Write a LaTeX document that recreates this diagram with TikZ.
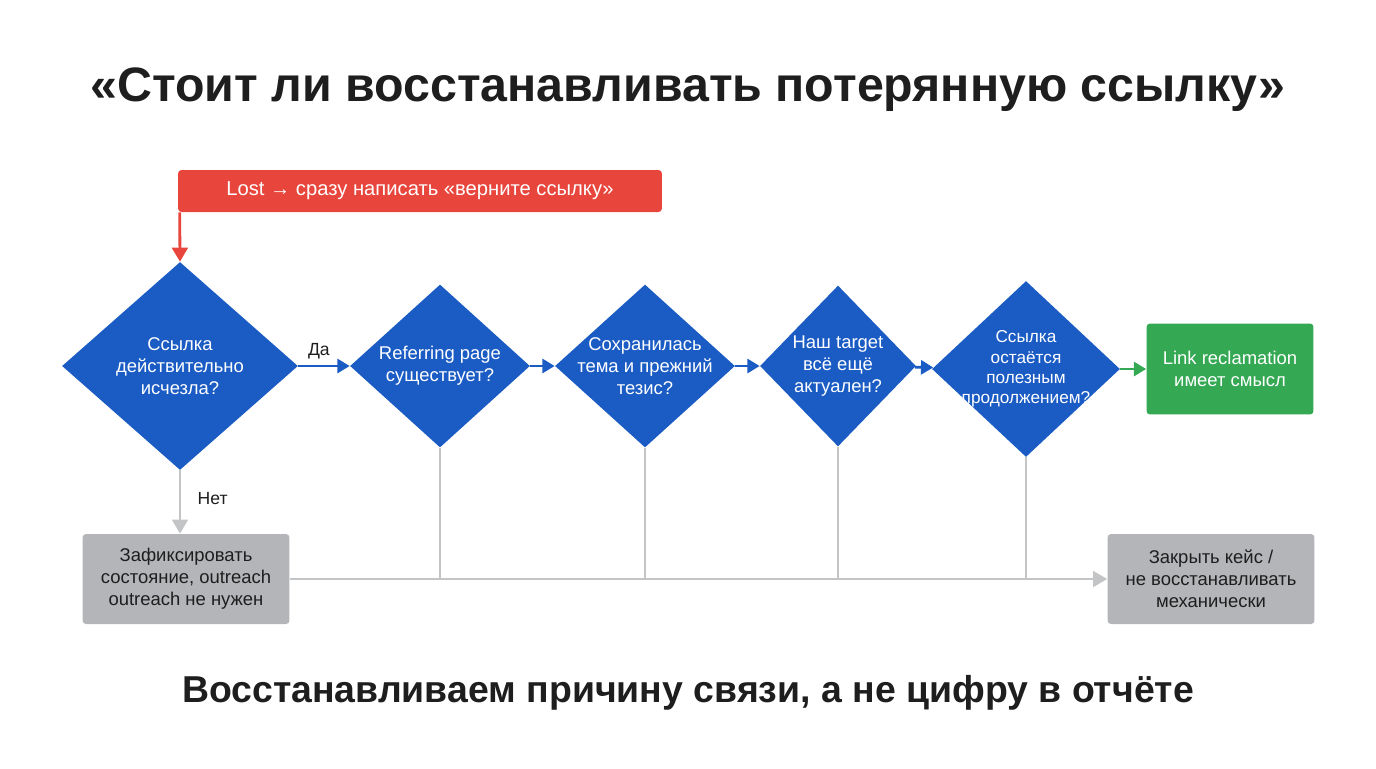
\documentclass[tikz,border=0pt]{standalone}
\usepackage{fontspec}
\setmainfont{Liberation Sans}
\usetikzlibrary{shapes.geometric,arrows.meta,positioning}
\definecolor{flowBlue}{HTML}{1A5BC4}
\definecolor{flowRed}{HTML}{E8453C}
\definecolor{flowGreen}{HTML}{34A853}
\definecolor{flowGray}{HTML}{B3B5B8}
\definecolor{flowLine}{HTML}{C3C4C6}
\definecolor{flowText}{HTML}{1E1E1E}

\begin{document}
\begin{tikzpicture}[x=0.02cm,y=-0.02cm]
\tikzset{Decision/.style={
  diamond,
  fill=flowBlue,
  inner sep=0pt,
}}
\tikzset{DecisionText/.style={
  text=white,
  align=center,
  font=\fontsize{10.5}{12.5}\selectfont
}}
\tikzset{BoxBase/.style={
  rectangle,
  rounded corners=2pt,
  align=center,
  inner sep=0pt,
  font=\fontsize{10.5}{12.5}\selectfont
}}
\tikzset{NoBox/.style={BoxBase, fill=flowGray, text=flowText, minimum width=4.14cm, minimum height=1.8cm}}
\tikzset{BlueArrow/.style={draw=flowBlue, line width=1.6pt, -{Triangle[length=7pt,width=8pt]}}}
\tikzset{GrayLine/.style={draw=flowLine, line width=1.4pt}}

\useasboundingbox (0,0) rectangle (1376,768);

% titles
\node[font=\bfseries\fontsize{27.5}{32}\selectfont, text=flowText] (title) at (688,90) {«Стоит ли восстанавливать потерянную ссылку»};
\node[font=\bfseries\fontsize{21.3}{25}\selectfont, text=flowText] (footer) at (688,693) {Восстанавливаем причину связи, а не цифру в отчёте};

% trap box
\node[BoxBase, fill=flowRed, text=white, minimum width=9.68cm, minimum height=0.84cm, font=\fontsize{11.5}{13}\selectfont] (lost) at (420,191) {Lost → сразу написать «верните ссылку»};

% decisions
\node[Decision, minimum width=4.72cm, minimum height=4.16cm] (gone) at (180,366) {};
\node[DecisionText] at (gone) {Ссылка\\действительно\\исчезла?};
\node[Decision, minimum width=3.6cm, minimum height=3.26cm] (page) at (440,366) {};
\node[DecisionText] at (page) {Referring page\\существует?};
\node[Decision, minimum width=3.6cm, minimum height=3.26cm] (topic) at (645,366) {};
\node[DecisionText] at (topic) {Сохранилась\\тема и прежний\\тезис?};
\node[Decision, minimum width=3.12cm, minimum height=3.22cm] (target) at (838,366) {};
\node[DecisionText] at (target) {Наш target\\всё ещё\\актуален?};
\node[Decision, minimum width=3.76cm, minimum height=3.52cm] (useful) at (1026,369) {};
\node[DecisionText, font=\fontsize{9.8}{11.5}\selectfont] at (useful) {Ссылка\\остаётся\\полезным\\продолжением?};

% outcomes
\node[BoxBase, fill=flowGreen, text=white, minimum width=3.34cm, minimum height=1.82cm] (reclaim) at (1230,369) {Link reclamation\\имеет смысл};
\node[NoBox] (fix) at (186,579) {Зафиксировать\\состояние, outreach\\outreach не нужен};
\node[NoBox] (close) at (1211,579) {Закрыть кейс /\\не восстанавливать\\механически};

% connectors
\draw[draw=flowRed, line width=1.6pt, -{Triangle[length=8pt,width=9pt]}] (lost.south west) ++(2,0) coordinate (lostfoot) -- (gone.north);
\draw[BlueArrow] (gone) -- node[above, pos=0.4, text=flowText, font=\fontsize{10}{12}\selectfont] {Да} (page);
\draw[BlueArrow] (page) -- (topic);
\draw[BlueArrow] (topic) -- (target);
\draw[BlueArrow] (target) -- (useful);
\draw[draw=flowGreen, line width=1.6pt, -{Triangle[length=7pt,width=8pt]}] (useful) -- (reclaim);
\draw[GrayLine, -{Triangle[length=8pt,width=9pt]}] (gone.south) -- node[right=6pt, pos=0.45, text=flowText, font=\fontsize{10}{12}\selectfont] {Нет} (fix.north -| gone.south);
\draw[GrayLine, -{Triangle[length=8pt,width=9pt]}] (fix) -- (close);
\foreach \d in {page,topic,target,useful}
  \draw[GrayLine] (\d.south) -- (\d.south |- fix);
\end{tikzpicture}
\end{document}
